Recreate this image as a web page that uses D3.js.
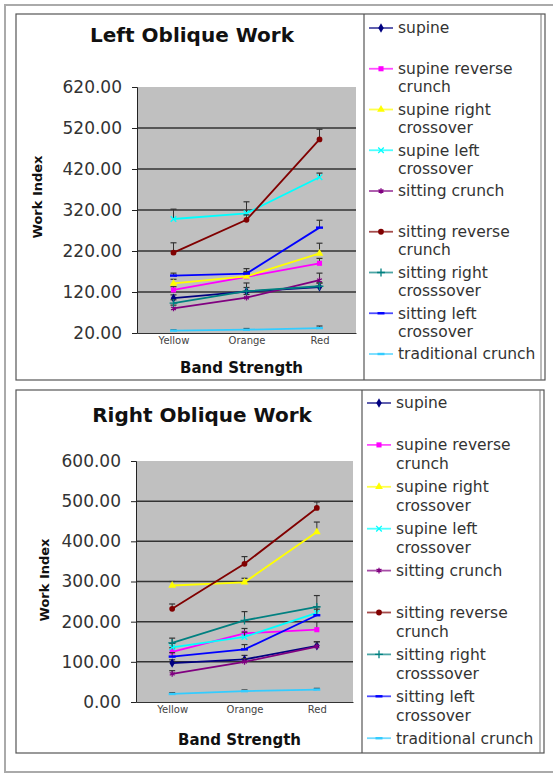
<!DOCTYPE html>
<html>
<head>
<meta charset="utf-8">
<script src="https://cdn.jsdelivr.net/npm/d3@7"></script>
<style>
  body { margin: 0; background: #fff; }
  svg { display: block; font-family: "DejaVu Sans", sans-serif; }
</style>
</head>
<body>
<div id="chart"></div>
<script>
// categories and series
var categories = ["Yellow", "Orange", "Red"];

var seriesNames = ["supine", "supine reverse crunch", "supine right crossover",
    "supine left crossover", "sitting crunch", "sitting reverse crunch",
    "sitting right crosssover", "sitting left crossover", "traditional crunch"];

// how the legend wraps each name
var legendLines = [["supine"], ["supine reverse", "crunch"], ["supine right", "crossover"],
    ["supine left", "crossover"], ["sitting crunch"], ["sitting reverse", "crunch"],
    ["sitting right", "crosssover"], ["sitting left", "crossover"], ["traditional crunch"]];

var leftTicks = [20, 120, 220, 320, 420, 520, 620];
var rightTicks = [0, 100, 200, 300, 400, 500, 600];

// Left Oblique Work, one row per series (Yellow, Orange, Red)
var leftWork = [
    [105, 121, 132],
    [125, 157, 190],
    [141, 158, 214],
    [298, 312, 400],
    [80, 106, 149],
    [216, 296, 492],
    [93, 122, 134],
    [160, 165, 277],
    [26, 28, 32]
];
var leftError = [
    [8, 10, 10],
    [8, 10, 12],
    [10, 12, 25],
    [24, 28, 10],
    [8, 8, 17],
    [24, 12, 25],
    [8, 20, 8],
    [6, 12, 18],
    [2, 3, 5]
];

// Right Oblique Work
var rightWork = [
    [97, 106, 140],
    [125, 171, 180],
    [290, 298, 423],
    [136, 162, 222],
    [70, 100, 138],
    [232, 344, 483],
    [147, 203, 237],
    [113, 131, 216],
    [20, 27, 31]
];
var rightError = [
    [8, 10, 10],
    [10, 12, 20],
    [10, 10, 25],
    [10, 12, 15],
    [8, 8, 12],
    [12, 18, 15],
    [12, 22, 28],
    [10, 12, 15],
    [3, 3, 3]
];

var colors = ["#000080", "#FF00FF", "#FFFF00", "#00FFFF", "#800080",
              "#800000", "#008080", "#0000FF", "#33CCFF"];
var markers = [d3.symbolDiamond, d3.symbolSquare, d3.symbolTriangle, d3.symbolX,
               d3.symbolAsterisk, d3.symbolCircle, d3.symbolPlus, "dash", "dash"];

var svg = d3.select("#chart").append("svg")
    .attr("width", 553).attr("height", 774);

// page frame
svg.append("rect")
    .attr("x", 5).attr("y", 5).attr("width", 560).attr("height", 767)
    .attr("fill", "none").attr("stroke", "#aaa").attr("stroke-width", 2);

function drawMarker(g, i, cx, cy) {
    var m = markers[i];
    if (m === "dash") {
        g.append("rect")
            .attr("x", cx - 3.5).attr("y", cy - 1.2).attr("width", 7).attr("height", 2.4)
            .attr("fill", colors[i]);
        return;
    }
    var stroke = (m === d3.symbolX || m === d3.symbolAsterisk || m === d3.symbolPlus);
    g.append("path")
        .attr("d", d3.symbol().type(m).size(stroke ? 22 : 26)())
        .attr("transform", "translate(" + cx + "," + cy + ")")
        .attr("fill", stroke ? "none" : colors[i])
        .attr("stroke", stroke ? colors[i] : "none")
        .attr("stroke-width", 1.3);
}

function drawChart(c) {
    var g = svg.append("g");

    // box + legend divider
    g.append("rect")
        .attr("x", c.box[0]).attr("y", c.box[1])
        .attr("width", c.box[2] - c.box[0]).attr("height", c.box[3] - c.box[1])
        .attr("fill", "#fff").attr("stroke", "#555").attr("stroke-width", 1.2);
    g.append("line")
        .attr("x1", c.divider).attr("x2", c.divider)
        .attr("y1", c.box[1]).attr("y2", c.box[3])
        .attr("stroke", "#555").attr("stroke-width", 1.2);
    g.append("line")
        .attr("x1", c.box[2] - 4).attr("x2", c.box[2] - 4)
        .attr("y1", c.box[1]).attr("y2", c.box[3])
        .attr("stroke", "#777").attr("stroke-width", 1);

    var x = d3.scalePoint().domain(categories).range([c.plot[0], c.plot[2]]).padding(0.5);
    var y = d3.scaleLinear().domain([c.ticks[0], c.ticks[c.ticks.length - 1]])
        .range([c.plot[3], c.plot[1]]);

    g.append("rect")
        .attr("x", c.plot[0]).attr("y", c.plot[1])
        .attr("width", c.plot[2] - c.plot[0]).attr("height", c.plot[3] - c.plot[1])
        .attr("fill", "#C0C0C0");

    g.selectAll(".grid")
        .data(c.ticks.slice(1, -1))
        .enter().append("line")
        .attr("x1", c.plot[0]).attr("x2", c.plot[2])
        .attr("y1", d => y(d)).attr("y2", d => y(d))
        .attr("stroke", "#333").attr("stroke-width", 1.5);

    var ya = g.append("g")
        .attr("transform", "translate(" + c.plot[0] + ",0)")
        .call(d3.axisLeft(y).tickValues(c.ticks).tickFormat(d3.format(".2f"))
            .tickSize(5).tickPadding(10));
    ya.select(".domain").attr("stroke", "#222");
    ya.selectAll(".tick line").attr("stroke", "#222");
    ya.selectAll("text")
        .attr("font-family", "DejaVu Sans").attr("font-size", 17).attr("fill", "#333");

    var xa = g.append("g")
        .attr("transform", "translate(0," + c.plot[3] + ")")
        .call(d3.axisBottom(x).tickSize(0).tickPadding(4));
    xa.select(".domain").attr("stroke", "#333");
    xa.selectAll("text")
        .attr("font-family", "DejaVu Sans").attr("font-size", 10).attr("fill", "#444");

    // titles
    g.append("text")
        .attr("x", c.titleX).attr("y", c.titleY)
        .attr("text-anchor", "middle").attr("font-weight", "bold")
        .attr("font-size", 20).attr("fill", "#111")
        .text(c.title);
    g.append("text")
        .attr("x", (c.plot[0] + c.plot[2]) / 2 - 5).attr("y", c.xTitleY)
        .attr("text-anchor", "middle").attr("font-weight", "bold")
        .attr("font-size", 15).attr("fill", "#111")
        .text("Band Strength");
    g.append("text")
        .attr("transform", "translate(" + c.yTitleX + "," + c.yTitleY + ") rotate(-90)")
        .attr("text-anchor", "middle").attr("font-weight", "bold")
        .attr("font-size", 13).attr("fill", "#111")
        .text("Work Index");

    var line = d3.line().x((d, j) => x(categories[j])).y(d => y(d));

    c.values.forEach(function(vals, i) {
        var s = g.append("g");
        s.append("path")
            .attr("d", line(vals))
            .attr("fill", "none").attr("stroke", colors[i]).attr("stroke-width", 1.8);
        vals.forEach(function(v, j) {
            var cx = x(categories[j]);
            var top = y(v + c.errors[i][j]);
            s.append("line")
                .attr("x1", cx).attr("x2", cx).attr("y1", y(v)).attr("y2", top)
                .attr("stroke", "#333").attr("stroke-width", 1);
            s.append("line")
                .attr("x1", cx - 3).attr("x2", cx + 3).attr("y1", top).attr("y2", top)
                .attr("stroke", "#333").attr("stroke-width", 1.2);
            drawMarker(s, i, cx, y(v));
        });
    });

    // legend
    var lg = g.append("g");
    seriesNames.forEach(function(name, i) {
        var ly = c.legendY + i * c.legendStep;
        lg.append("line")
            .attr("x1", c.legendX).attr("x2", c.legendX + 24)
            .attr("y1", ly).attr("y2", ly)
            .attr("stroke", colors[i]).attr("stroke-width", 1.8).attr("stroke-opacity", 0.7);
        drawMarker(lg, i, c.legendX + 12, ly);
        legendLines[i].forEach(function(t, k) {
            lg.append("text")
                .attr("x", c.legendX + 29).attr("y", ly + k * c.legendLine)
                .attr("dy", "0.35em")
                .attr("font-size", 15.5).attr("fill", "#333")
                .text(t);
        });
    });
}

drawChart({
    box: [16, 14, 545, 380], divider: 364,
    plot: [137, 87, 356, 333],
    ticks: leftTicks, values: leftWork, errors: leftError,
    title: "Left Oblique Work", titleX: 192, titleY: 42,
    xTitleY: 373, yTitleX: 42, yTitleY: 197,
    legendX: 369, legendY: 28, legendStep: 40.75, legendLine: 18
});

drawChart({
    box: [16, 390, 544, 753], divider: 362,
    plot: [136, 461, 353, 702],
    ticks: rightTicks, values: rightWork, errors: rightError,
    title: "Right Oblique Work", titleX: 202, titleY: 422,
    xTitleY: 745, yTitleX: 49, yTitleY: 580,
    legendX: 367, legendY: 403, legendStep: 41.9, legendLine: 19
});
</script>
</body>
</html>
